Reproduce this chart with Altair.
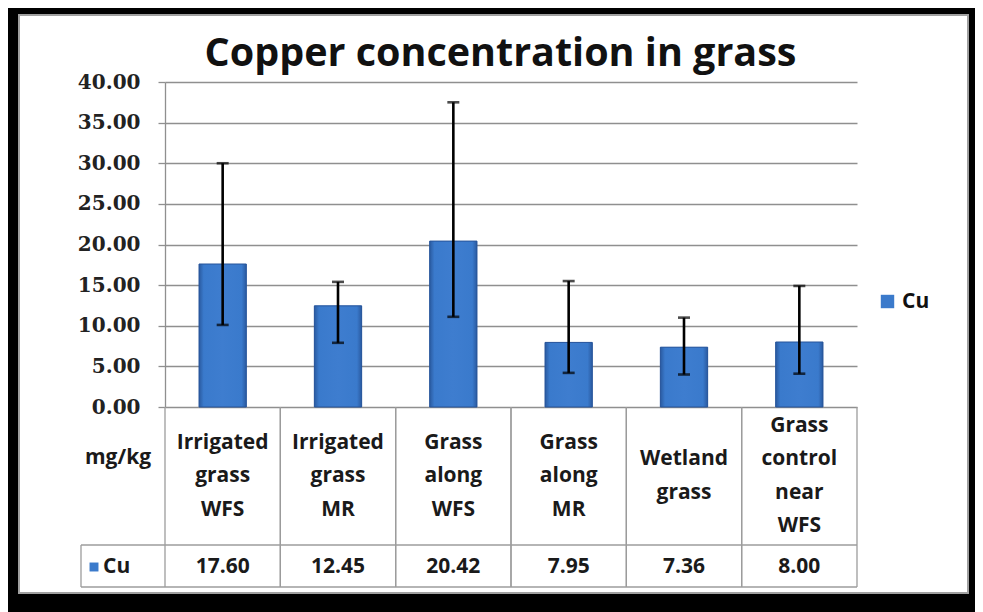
import altair as alt
import pandas as pd

# ---- data ----
categories = ["Irrigated\ngrass\nWFS", "Irrigated\ngrass\nMR", "Grass\nalong\nWFS",
              "Grass\nalong\nMR", "Wetland\ngrass", "Grass\ncontrol\nnear\nWFS"]
cu_values = [17.60, 12.45, 20.42, 7.95, 7.36, 8.00]
err_low = [10.1, 7.9, 11.1, 4.2, 4.0, 4.1]
err_high = [30.0, 15.4, 37.5, 15.5, 11.0, 14.9]
y_ticks = [0, 5, 10, 15, 20, 25, 30, 35, 40]
series_name = "Cu"
unit_label = "mg/kg"
title_text = "Copper concentration in grass"

df = pd.DataFrame({"cat": categories, "value": cu_values, "lo": err_low,
                   "hi": err_high, "series": series_name})
one = pd.DataFrame({"series": [series_name], "unit": [unit_label]})

# ---- layout (pixels, view coordinates) ----
W, H = 949, 578
X0, X1 = 146, 838          # plot area left/right
Y0, Y1 = 392, 67           # value 0 / value 40
HEAD_MID, LINE_H = 461, 33.5
TBL_MID, TBL_BOT, TBL_LEFT = 530, 572, 62
LBL = "Open Sans"
GRID = "#8f8f8f"
LINE = "#9c9c9c"

xscale = alt.Scale(domain=categories, range=[X0, X1], paddingInner=0, paddingOuter=0)
yscale = alt.Scale(domain=[0, 40], range=[Y0, Y1], nice=False, zero=True)
yaxis = alt.Axis(values=y_ticks, format=".2f", title=None, offset=-X0,
                 grid=True, gridColor=GRID, gridWidth=1.3,
                 domainColor=GRID, domainWidth=1.3, tickColor=GRID, tickSize=7,
                 tickWidth=1.3, labelFont="DejaVu Serif", labelFontSize=20,
                 labelFontWeight="bold",
                 labelColor="#222", labelPadding=18)

def X(field="cat:N", **kw):
    return alt.X(field, scale=xscale, axis=None, sort=categories, **kw)

def Y(field):
    return alt.Y(field, scale=yscale, axis=yaxis)

base = alt.Chart(df)

bars_legend = base.mark_bar(width={"band": 0.41}).encode(
    x=X(), y=Y("value:Q"),
    color=alt.Color("series:N", scale=alt.Scale(range=["#3b7acb"]),
                    legend=alt.Legend(orient="none", legendX=858, legendY=276, title=None,
                                      symbolType="square", symbolSize=180,
                                      symbolStrokeWidth=0,
                                      labelFont=LBL, labelFontSize=21,
                                      labelFontWeight="bold", labelColor="#111"))
)

grad = alt.Gradient(gradient="linear", x1=0, x2=1, y1=0, y2=0, stops=[
    alt.GradientStop(color="#2a5aa0", offset=0),
    alt.GradientStop(color="#3a7acc", offset=0.1),
    alt.GradientStop(color="#3e7dcf", offset=0.5),
    alt.GradientStop(color="#3a7acc", offset=0.9),
    alt.GradientStop(color="#2a5aa0", offset=1),
])
bars = base.mark_bar(width={"band": 0.41}, color=grad, stroke="#27549a",
                     strokeWidth=1).encode(x=X(), y=Y("value:Q"))

err = base.mark_rule(color="black", strokeWidth=2.6).encode(
    x=X(), y=Y("lo:Q"), y2="hi:Q")
cap_hi = base.mark_tick(color="black", size=12, thickness=2.6).encode(x=X(), y=Y("hi:Q"))
cap_lo = base.mark_tick(color="black", size=12, thickness=2.6).encode(x=X(), y=Y("lo:Q"))

# ---- data table under the plot ----
vlines_l = base.mark_rule(color=LINE, strokeWidth=1.3).encode(
    x=X(bandPosition=0), y=alt.value(Y0), y2=alt.value(TBL_BOT))
vlines_r = base.mark_rule(color=LINE, strokeWidth=1.3).encode(
    x=X(bandPosition=1), y=alt.value(Y0), y2=alt.value(TBL_BOT))
o = alt.Chart(one)
hl_mid = o.mark_rule(color=LINE, strokeWidth=1.3).encode(
    x=alt.value(TBL_LEFT), x2=alt.value(X1), y=alt.value(TBL_MID))
hl_bot = o.mark_rule(color=LINE, strokeWidth=1.3).encode(
    x=alt.value(TBL_LEFT), x2=alt.value(X1), y=alt.value(TBL_BOT))
vl_left = o.mark_rule(color=LINE, strokeWidth=1.3).encode(
    x=alt.value(TBL_LEFT), y=alt.value(TBL_MID), y2=alt.value(TBL_BOT))

txt = dict(font=LBL, fontSize=21, fontWeight="bold", color="#1a1a1a", baseline="middle")

# header labels: vertically centre each multi-line block in the header row
heads = []
for n in (2, 3, 4):
    heads.append(
        base.transform_calculate(nl="length(split(datum.cat, '\\n'))")
        .transform_filter(f"datum.nl == {n}")
        .mark_text(lineBreak="\n", lineHeight=LINE_H, dy=-(n - 1) * LINE_H / 2, **txt)
        .encode(x=X(), y=alt.value(HEAD_MID), text="cat:N")
    )
vals = base.mark_text(**txt).encode(
    x=X(), y=alt.value(552), text=alt.Text("value:Q", format=".2f"))
unit = o.mark_text(**txt).encode(x=alt.value(99), y=alt.value(443), text="unit:N")
row_sym = o.mark_point(shape="square", filled=True, size=80, color="#3b7acb",
                       opacity=1).encode(x=alt.value(75), y=alt.value(552))
row_lbl = o.mark_text(align="left", **txt).encode(
    x=alt.value(84), y=alt.value(552), text="series:N")

chart = alt.layer(
    bars_legend, bars, err, cap_hi, cap_lo,
    vlines_l, vlines_r, hl_mid, hl_bot, vl_left,
    *heads, vals, unit, row_sym, row_lbl
).properties(
    width=W, height=H,
    autosize=alt.AutoSizeParams(type="none"),
    padding={"left": 11, "top": 7, "right": 7, "bottom": 19},
    title=alt.TitleParams(title_text, font=LBL, fontSize=39.5, fontWeight="bold",
                          color="#111", anchor="middle", frame="group",
                          baseline="alphabetic", offset=-90, dx=7),
).configure(background="black").configure_view(
    fill="white", stroke="#a0a0a0", strokeWidth=2)

chart.save("out.html", embed_options={"renderer": "svg", "actions": False})
